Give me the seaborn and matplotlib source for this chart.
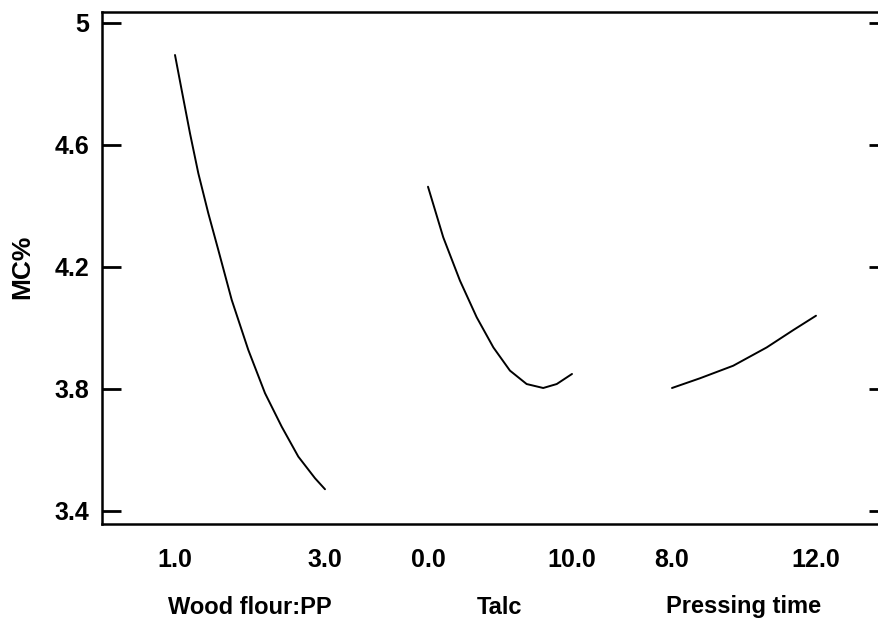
import numpy as np
import pandas as pd
import matplotlib
matplotlib.use("Agg")
import matplotlib.pyplot as plt
import matplotlib.transforms as mtransforms
import seaborn as sns

# ---- data ----
factors = ["Wood flour:PP", "Talc", "Pressing time"]
factor_low = [1.0, 0.0, 8.0]
factor_high = [3.0, 10.0, 12.0]
tick_labels = ["1.0", "3.0", "0.0", "10.0", "8.0", "12.0"]

wood_level = [1.00, 1.089, 1.20, 1.311, 1.444, 1.577, 1.756, 1.977,
              2.20, 2.423, 2.644, 2.867, 3.00]
wood_mc = [4.894, 4.779, 4.637, 4.506, 4.375, 4.255, 4.091, 3.927,
           3.785, 3.675, 3.577, 3.506, 3.470]

talc_level = [0.0, 1.06, 2.22, 3.38, 4.54, 5.69, 6.85, 8.00, 8.94, 10.0]
talc_mc = [4.462, 4.296, 4.154, 4.034, 3.935, 3.859, 3.815, 3.802, 3.815, 3.848]

press_level = [8.0, 8.78, 9.70, 10.63, 11.37, 12.0]
press_mc = [3.802, 3.834, 3.875, 3.935, 3.992, 4.039]

y_ticks = [3.4, 3.8, 4.2, 4.6, 5.0]
y_tick_labels = ["3.4", "3.8", "4.2", "4.6", "5"]

# ---- layout (panel slots along the shared x axis) ----
slot_start = [175, 428, 672]
slot_end = [325, 572, 816]
x_limits = (102, 888)
y_limits = (3.356, 5.035)

levels = [wood_level, talc_level, press_level]
values = [wood_mc, talc_mc, press_mc]
rows = []
for i, f in enumerate(factors):
    for lv, mc in zip(levels[i], values[i]):
        rows.append({"factor": f, "level": lv, "MC": mc})
df = pd.DataFrame(rows)
idx = df["factor"].map({f: i for i, f in enumerate(factors)})
lo = idx.map(lambda i: factor_low[i])
hi = idx.map(lambda i: factor_high[i])
s0 = idx.map(lambda i: slot_start[i])
s1 = idx.map(lambda i: slot_end[i])
df["pos"] = s0 + (df["level"] - lo) / (hi - lo) * (s1 - s0)

sns.set_style("white")
plt.rcParams["font.family"] = ["Liberation Sans", "DejaVu Sans"]
plt.rcParams["font.weight"] = "bold"
plt.rcParams["text.color"] = "black"
plt.rcParams["xtick.color"] = "black"
plt.rcParams["ytick.color"] = "black"

fig = plt.figure(figsize=(8.79, 6.24), dpi=100)
ax = fig.add_axes([102 / 879, 1 - 524 / 624, (888 - 102) / 879, (524 - 12) / 624])

sns.lineplot(data=df, x="pos", y="MC", units="factor", estimator=None,
             sort=False, color="black", linewidth=1.4, ax=ax)

ax.set_xlim(*x_limits)
ax.set_ylim(*y_limits)

tick_pos = []
for i in range(3):
    tick_pos += [slot_start[i], slot_end[i]]
ax.set_xticks(tick_pos)
ax.set_xticklabels(tick_labels, fontsize=18, fontweight="bold", color="black")
ax.tick_params(axis="x", length=0, pad=17)

ax.set_yticks(y_ticks)
ax.set_yticklabels(y_tick_labels, fontsize=18, fontweight="bold", color="black")
ax.tick_params(axis="y", direction="in", length=14, width=2, pad=9,
               left=True, right=True, color="black")

for side in ["left", "bottom", "top"]:
    ax.spines[side].set_visible(True)
    ax.spines[side].set_color("black")
    ax.spines[side].set_linewidth(1.8)
ax.spines["right"].set_visible(False)

ax.set_xlabel("")
ax.set_ylabel("")

trans = mtransforms.blended_transform_factory(ax.transData, ax.transAxes)
ax_h_px = 524 - 12
for i, f in enumerate(factors):
    xc = (slot_start[i] + slot_end[i]) / 2
    ax.text(xc, -(607 - 524) / ax_h_px, f, transform=trans, ha="center",
            va="center", fontsize=17, fontweight="bold", color="black")

fig.text(22 / 879, 1 - 267 / 624, "MC%", rotation=90, ha="center",
         va="center", fontsize=19, fontweight="bold", color="black")

fig.savefig("out.png", dpi=100, facecolor="white")
